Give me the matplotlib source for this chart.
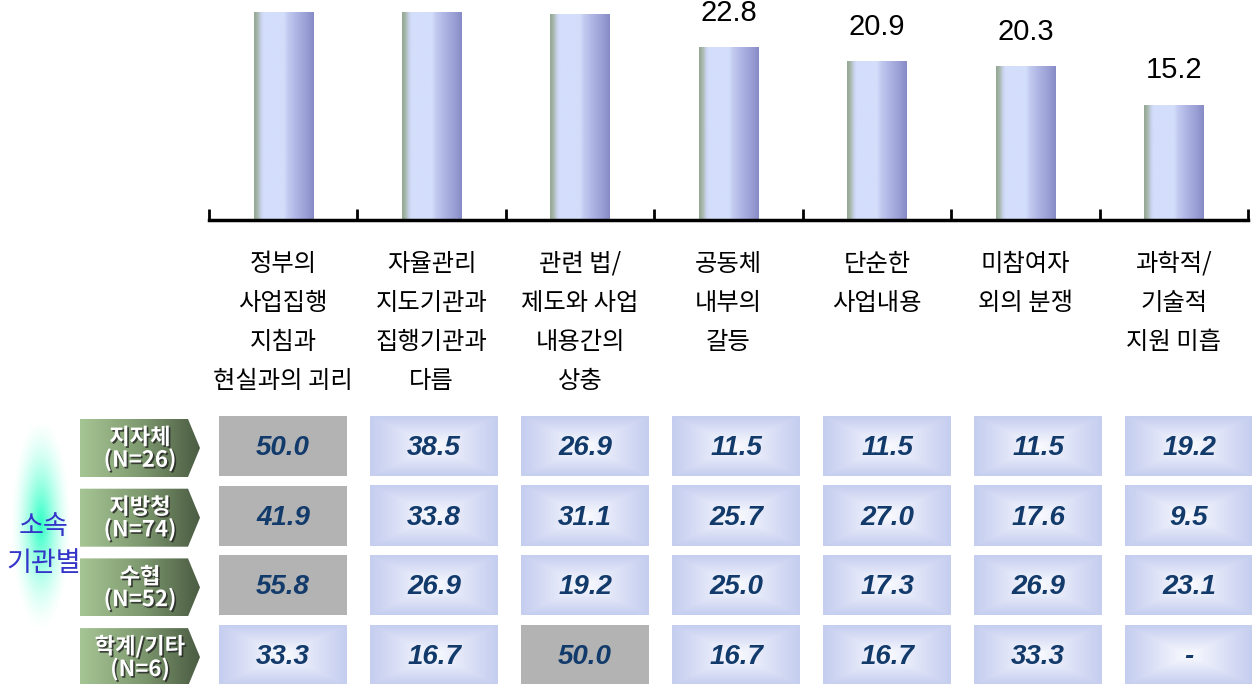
import numpy as np
import matplotlib
matplotlib.use("Agg")
import matplotlib.pyplot as plt
from matplotlib.colors import LinearSegmentedColormap, to_rgb
from matplotlib.patches import Polygon
import matplotlib.patheffects as pe

# ---- data -------------------------------------------------------------
categories = [
    "정부의\n사업집행\n지침과\n현실과의 괴리",
    "자율관리\n지도기관과\n집행기관과\n다름",
    "관련 법/\n제도와 사업\n내용간의\n상충",
    "공동체\n내부의\n갈등",
    "단순한\n사업내용",
    "미참여자\n외의 분쟁",
    "과학적/\n기술적\n지원 미흡",
]
overall = [47.5, 31.6, 27.2, 22.8, 20.9, 20.3, 15.2]

group_title = "소속\n기관별"
groups = ["지자체\n(N=26)", "지방청\n(N=74)", "수협\n(N=52)", "학계/기타\n(N=6)"]
row_local_gov = [50.0, 38.5, 26.9, 11.5, 11.5, 11.5, 19.2]
row_regional = [41.9, 33.8, 31.1, 25.7, 27.0, 17.6, 9.5]
row_fish_coop = [55.8, 26.9, 19.2, 25.0, 17.3, 26.9, 23.1]
row_other = [33.3, 16.7, 50.0, 16.7, 16.7, 33.3, np.nan]
table_rows = [row_local_gov, row_regional, row_fish_coop, row_other]

# ---- fonts / colours --------------------------------------------------
KR = ["Noto Sans CJK KR", "DejaVu Sans"]
NUM = ["Liberation Sans", "DejaVu Sans"]
NAVY = "#123a6b"

W, H = 1252, 684
fig = plt.figure(figsize=(W / 100, H / 100), dpi=100)

# pixel canvas for the table part
cv = fig.add_axes([0, 0, 1, 1], zorder=0)
cv.set_xlim(0, W)
cv.set_ylim(H, 0)
cv.axis("off")

# ---- bar chart ----------------------------------------------------------
ax = fig.add_axes([209 / W, 1 - 220 / H, (1248 - 209) / W, (220 - 12) / H], zorder=1)
ax.patch.set_alpha(0)
x = np.arange(len(categories))
bw = 0.4
bar_cmap = LinearSegmentedColormap.from_list(
    "cyl",
    [(0.0, "#92a692"), (0.06, "#a9b9ad"), (0.12, "#c9d3ee"), (0.16, "#d3defb"),
     (0.5, "#d3defb"), (0.56, "#c4ccf1"), (0.72, "#adb3e2"), (0.88, "#999ed4"),
     (1.0, "#878bc6")],
)
grad = np.linspace(0, 1, 256).reshape(1, -1)
bars = ax.bar(x, overall, width=bw, color="none", edgecolor="none")
for b in bars:
    ax.imshow(grad, cmap=bar_cmap, aspect="auto", interpolation="bilinear",
              extent=[b.get_x(), b.get_x() + b.get_width(), 0, b.get_height()],
              zorder=2)
for xi, v in zip(x, overall):
    ax.annotate(f"{v:.1f}", xy=(xi, v), xytext=(0, 15), textcoords="offset points",
                ha="center", va="bottom", fontsize=21, family=NUM, color="black")

ax.set_xlim(-0.5, len(categories) - 0.5)
ax.set_ylim(0, 27.5)
ax.set_yticks([])
for s in ("top", "left", "right"):
    ax.spines[s].set_visible(False)
ax.spines["bottom"].set_linewidth(2.5)
ax.set_xticks(x)
ax.set_xticklabels(categories, family=KR, fontsize=17.5, linespacing=1.66)
ax.tick_params(axis="x", which="major", length=0, pad=22)
ax.set_xticks(np.arange(-0.5, len(categories)), minor=True)
ax.tick_params(axis="x", which="minor", direction="in", length=8, width=2)

# ---- table --------------------------------------------------------------
col_x0, col_pitch, cell_w = 219, 151, 128
row_y0, row_pitch, cell_h = 416, 69.7, 60

n = 80
uu = np.linspace(-1, 1, n)
U, V = np.meshgrid(uu, uu)
t = (1 - np.maximum(np.abs(U), np.abs(V))) ** 1.1
edge = np.array(to_rgb("#c6cef0"))
centre = np.array(to_rgb("#fbfcff"))
box_img = edge + (centre - edge) * t[..., None]
box_img = np.clip(box_img, 0, 1)

for r, vals in enumerate(table_rows):
    y0 = row_y0 + r * row_pitch
    vmax = np.nanmax(vals)
    for c, v in enumerate(vals):
        x0 = col_x0 + c * col_pitch
        if v == vmax:
            cv.fill_between([x0, x0 + cell_w], y0, y0 + cell_h, color="#b3b3b3",
                            lw=0, zorder=1)
        else:
            cv.imshow(box_img, extent=[x0, x0 + cell_w, y0 + cell_h, y0],
                      aspect="auto", interpolation="bilinear", zorder=1)
        label = "-" if np.isnan(v) else f"{v:.1f}"
        cv.text(x0 + cell_w / 2, y0 + cell_h / 2 + 2, label, ha="center",
                va="center", fontsize=20, family=NUM, weight="bold",
                style="italic", color=NAVY, zorder=3)

# row header arrows
arrow_cmap = LinearSegmentedColormap.from_list("grn", ["#a6c594", "#7f9a70", "#4b5c42"])
hgrad = np.linspace(0, 1, 256).reshape(1, -1)
for r, g in enumerate(groups):
    top = row_y0 + 3 + r * row_pitch
    bot = top + 58
    mid = (top + bot) / 2
    poly = Polygon([(80, top), (188, top), (200, mid), (188, bot), (80, bot)],
                   closed=True, facecolor="none", edgecolor="none")
    cv.add_patch(poly)
    im = cv.imshow(hgrad, cmap=arrow_cmap, extent=[80, 200, bot, top],
                   aspect="auto", interpolation="bilinear", zorder=1)
    im.set_clip_path(poly)
    cv.text(140, mid + 1, g, ha="center", va="center", fontsize=16,
            family=KR, weight="bold", color="white", linespacing=0.95, zorder=3,
            path_effects=[pe.SimplePatchShadow(offset=(1.2, -1.2),
                                               shadow_rgbFace="#222222", alpha=0.8),
                          pe.Normal()])

# glowing group title
gy, gx = np.mgrid[0:1:200j, 0:1:120j]
rr = np.sqrt(((gx - 0.5) / 0.5) ** 2 + ((gy - 0.45) / 0.5) ** 2)
glow = np.zeros((200, 120, 4))
glow[..., :3] = to_rgb("#2bffc4")
glow[..., 3] = np.clip(1 - rr, 0, 1) ** 1.6
cv.imshow(glow, extent=[10, 72, 645, 425], aspect="auto",
          interpolation="bilinear", zorder=1)
cv.text(44, 545, group_title, ha="center", va="center", fontsize=19.5,
        family=KR, weight="medium", color="#3434c8", linespacing=1.45, zorder=3)

cv.set_xlim(0, W)
cv.set_ylim(H, 0)

fig.savefig("out.png", dpi=100)
